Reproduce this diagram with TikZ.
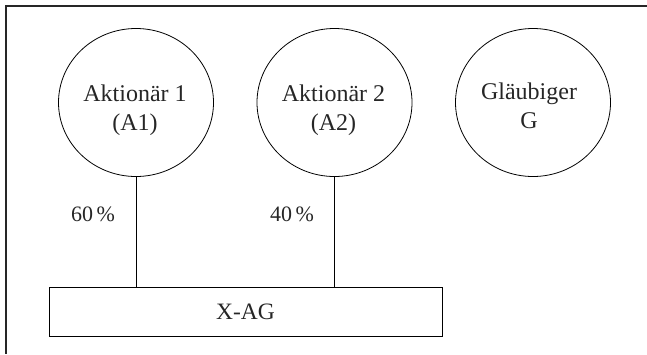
\documentclass[tikz,border=0pt]{standalone}
\usepackage{fontspec}
\setmainfont{Liberation Serif}
\usetikzlibrary{shapes.geometric}
\begin{document}
\begin{tikzpicture}[x=1pt,y=-1pt,
  txt/.style={font=\fontsize{24}{29}\selectfont, text=black!85, inner sep=0pt},
  pct/.style={font=\fontsize{22}{26}\selectfont, text=black!85, inner sep=0pt},
  party/.style={draw, ellipse, inner sep=0pt,
    minimum width=155pt, minimum height=148pt, line width=0.8pt},
  partytext/.style={txt, align=center, anchor=base},
  company/.style={font=\fontsize{23.5}{28}\selectfont, text=black!85, draw, rectangle, inner sep=0pt,
    minimum width=393pt, minimum height=49pt, line width=0.9pt},
  link/.style={line width=0.9pt},
  frame/.style={line width=1.4pt, black!85}]
\useasboundingbox (0,0) rectangle (647,354);
\coordinate (tr) at (647,6);
\coordinate (tl) at (6,6);
\coordinate (bl) at (6,354);
\draw[frame] (tr) -- (tl) -- (bl);
\node[party] (a1) at (136,102.5) {};
\node[party] (a2) at (334.5,102.5) {};
\node[party] (g) at (533,102.5) {};
\node[partytext] (a1t) at (135,130) {Aktionär 1\\(A1)};
\node[partytext] (a2t) at (333.5,130) {Aktionär 2\\(A2)};
\node[partytext] (gt) at (529,128) {Gläubiger\\G};
\node[company] (x) at (245.5,311.5) {X-AG};
\draw[link] (a1.south) -- (a1.south |- x.north);
\draw[link] (a2.south) -- (a2.south |- x.north);
\node[pct] (p60) at (93,214) {60\,\%};
\node[pct] (p40) at (292,214) {40\,\%};
\end{tikzpicture}
\end{document}
